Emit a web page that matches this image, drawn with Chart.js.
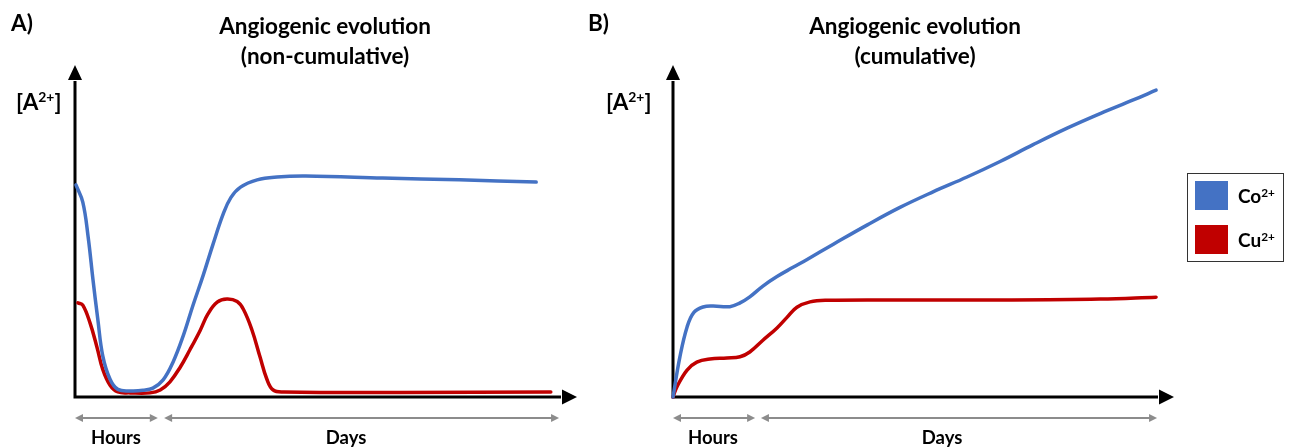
<!DOCTYPE html>
<html>
<head>
<meta charset="utf-8">
<script src="https://cdn.jsdelivr.net/npm/chart.js@4.4.1/dist/chart.umd.min.js"></script>
<style>
  html, body { margin:0; padding:0; background:#fff; }
  body { width:1290px; height:448px; position:relative; overflow:hidden;
         font-family: Lato, "Liberation Sans", sans-serif; font-weight:700; color:#000; }
  .wrap { position:absolute; top:0; height:448px; }
  .t { position:absolute; white-space:nowrap; }
  .sup { font-size:0.62em; position:relative; top:-0.55em; }
  .title { font-size:22.5px; line-height:30px; text-align:center; width:320px; }
  .panel { font-size:22.5px; line-height:20px; }
  .ylab { font-size:22.5px; line-height:20px; }
  .phase { font-size:18.5px; line-height:18px; text-align:center; width:120px; }
  .legend { position:absolute; left:1187px; top:173px; width:97px; height:89px;
            border:1.5px solid #333; box-sizing:border-box; }
  .sw { position:absolute; width:33px; height:29px; }
  .lt { font-size:19px; line-height:18px; }
</style>
</head>
<body>
<div class="wrap" style="left:0;width:590px;"><canvas id="chartA"></canvas></div>
<div class="wrap" style="left:590px;width:700px;"><canvas id="chartB"></canvas></div>

<div class="t panel" style="left:11px;top:13px;">A)</div>
<div class="t panel" style="left:588px;top:13px;">B)</div>

<div class="t title" style="left:165px;top:11px;">Angiogenic evolution<br>(non-cumulative)</div>
<div class="t title" style="left:755px;top:11px;">Angiogenic evolution<br>(cumulative)</div>

<div class="t ylab" style="left:16px;top:92px;">[A<span class="sup">2+</span>]</div>
<div class="t ylab" style="left:606px;top:92px;">[A<span class="sup">2+</span>]</div>

<div class="t phase" style="left:56px;top:428px;">Hours</div>
<div class="t phase" style="left:286px;top:428px;">Days</div>
<div class="t phase" style="left:653px;top:428px;">Hours</div>
<div class="t phase" style="left:882px;top:428px;">Days</div>

<div class="legend"></div>
<div class="sw" style="left:1195px;top:181px;background:#4472C4;"></div>
<div class="sw" style="left:1195px;top:225px;background:#C00000;"></div>
<div class="t lt" style="left:1238px;top:187px;">Co<span class="sup">2+</span></div>
<div class="t lt" style="left:1238px;top:231px;">Cu<span class="sup">2+</span></div>

<script>
// ---- Panel A (non-cumulative) ----
const coA_x = [0.2, 1.6, 2.7, 3.7, 4.7, 5.7, 7.2, 8.8, 11.5, 14.0, 16.0, 18.1, 20.1, 22.2, 24.2, 26.3, 28.3, 30.4, 32.0, 34.0, 37.4, 41.5, 47.4, 63.2, 78.9, 94.7];
const coA_y = [66.9, 61.5, 50.5, 36.9, 24.3, 13.0, 5.6, 2.4, 1.9, 2.1, 2.8, 5.4, 10.9, 19.2, 28.8, 38.3, 48.0, 57.6, 62.9, 66.2, 68.5, 69.4, 69.7, 69.1, 68.5, 67.8];
const cuA_x = [0.6, 1.6, 3.1, 4.5, 5.7, 7.2, 8.8, 11.3, 15.4, 17.5, 19.5, 21.6, 23.6, 25.7, 27.3, 29.2, 31.2, 33.3, 34.6, 36.3, 38.0, 39.4, 40.7, 42.9, 66.7, 97.7];
const cuA_y = [29.7, 29.0, 23.3, 15.8, 8.7, 3.7, 1.6, 1.3, 1.3, 2.2, 4.8, 9.4, 14.9, 21.0, 26.2, 29.9, 30.9, 30.1, 27.6, 21.3, 12.6, 5.6, 2.2, 1.6, 1.4, 1.6];

// ---- Panel B (cumulative) ----
const coB_x = [0, 1.4, 2.9, 4.3, 6.2, 8.2, 11.7, 13.8, 15.8, 18.5, 21.4, 24.7, 27.6, 33.0, 40.0, 46.7, 53.5, 60.5, 67.3, 74.1, 81.1, 87.9, 94.7, 99.4];
const coB_y = [0, 12.5, 22.1, 26.7, 28.4, 28.7, 28.5, 29.7, 31.6, 35.0, 38.0, 40.9, 43.4, 48.2, 54.3, 59.8, 64.7, 69.4, 74.3, 79.6, 84.8, 89.4, 93.7, 96.8];
const cuB_x = [0, 0.8, 2.9, 4.9, 7.6, 11.1, 13.8, 15.8, 18.5, 21.4, 23.5, 25.5, 28.2, 31.7, 46.7, 67.3, 87.9, 99.4];
const cuB_y = [0, 3.2, 8.5, 11.0, 12.0, 12.3, 12.7, 14.2, 17.9, 21.8, 25.2, 28.3, 30.0, 30.5, 30.6, 30.6, 30.9, 31.5];

// ---- Phase spans (x-axis units): Hours, Days ----
const phaseNames = ['Hours', 'Days'];
const phasesA = [[0, 17.0], [18.3, 99.4]];
const phasesB = [[0, 16.9], [18.1, 99.6]];

const seriesNames = ['Co2+', 'Cu2+'];
const COLORS = { co: '#4472C4', cu: '#C00000' };

function pts(xs, ys) { return xs.map((x, i) => ({ x: x, y: ys[i] })); }

const arrowAxes = {
  id: 'arrowAxes',
  beforeDatasetsDraw(chart, args, opts) {
    const ctx = chart.ctx;
    const xs = chart.scales.x, ys = chart.scales.y;
    const x0 = xs.getPixelForValue(xs.min), y0 = ys.getPixelForValue(ys.min);
    const xEnd = xs.getPixelForValue(xs.max), yTop = ys.getPixelForValue(ys.max);
    ctx.save();
    ctx.strokeStyle = '#000'; ctx.fillStyle = '#000'; ctx.lineWidth = 3;
    ctx.lineCap = 'butt';
    ctx.beginPath();
    ctx.moveTo(x0, y0 + 1.5); ctx.lineTo(x0, yTop + 1);
    ctx.moveTo(x0 - 1.5, y0); ctx.lineTo(xEnd - 1, y0);
    ctx.stroke();
    ctx.beginPath();
    ctx.moveTo(x0, yTop - 15); ctx.lineTo(x0 - 7, yTop); ctx.lineTo(x0 + 7, yTop); ctx.closePath();
    ctx.fill();
    ctx.beginPath();
    ctx.moveTo(xEnd + 15, y0); ctx.lineTo(xEnd, y0 - 7.5); ctx.lineTo(xEnd, y0 + 7.5); ctx.closePath();
    ctx.fill();
    const py = y0 + 21;
    ctx.strokeStyle = '#8c8c8c'; ctx.fillStyle = '#8c8c8c'; ctx.lineWidth = 2;
    (opts.phases || []).forEach(([s, e]) => {
      const p1 = xs.getPixelForValue(s), p2 = xs.getPixelForValue(e);
      ctx.beginPath(); ctx.moveTo(p1 + 4, py); ctx.lineTo(p2 - 4, py); ctx.stroke();
      ctx.beginPath(); ctx.moveTo(p1, py); ctx.lineTo(p1 + 8, py - 4); ctx.lineTo(p1 + 8, py + 4); ctx.closePath(); ctx.fill();
      ctx.beginPath(); ctx.moveTo(p2, py); ctx.lineTo(p2 - 8, py - 4); ctx.lineTo(p2 - 8, py + 4); ctx.closePath(); ctx.fill();
    });
    ctx.restore();
  }
};

function makeChart(id, co, cu, phases, padRight, padLeft) {
  const ds = (label, data, color) => ({
    label: label, data: data, borderColor: color, backgroundColor: color,
    borderWidth: 3.5, pointRadius: 0, fill: false, clip: false,
    tension: 0.4, borderCapStyle: 'round', borderJoinStyle: 'round'
  });
  return new Chart(document.getElementById(id), {
    type: 'line',
    data: { datasets: [ds(seriesNames[0], co, COLORS.co), ds(seriesNames[1], cu, COLORS.cu)] },
    options: {
      responsive: true, maintainAspectRatio: false, animation: false,
      layout: { padding: { left: padLeft, right: padRight, top: 80, bottom: 51 } },
      plugins: { legend: { display: false }, title: { display: false }, tooltip: { enabled: false },
                 arrowAxes: { phases: phases } },
      scales: {
        x: { type: 'linear', min: 0, max: 100, display: false },
        y: { type: 'linear', min: 0, max: 100, display: false }
      },
      events: []
    },
    plugins: [arrowAxes]
  });
}

makeChart('chartA', pts(coA_x, coA_y), pts(cuA_x, cuA_y), phasesA, 28, 75);
makeChart('chartB', pts(coB_x, coB_y), pts(cuB_x, cuB_y), phasesB, 131, 83);
</script>
</body>
</html>
